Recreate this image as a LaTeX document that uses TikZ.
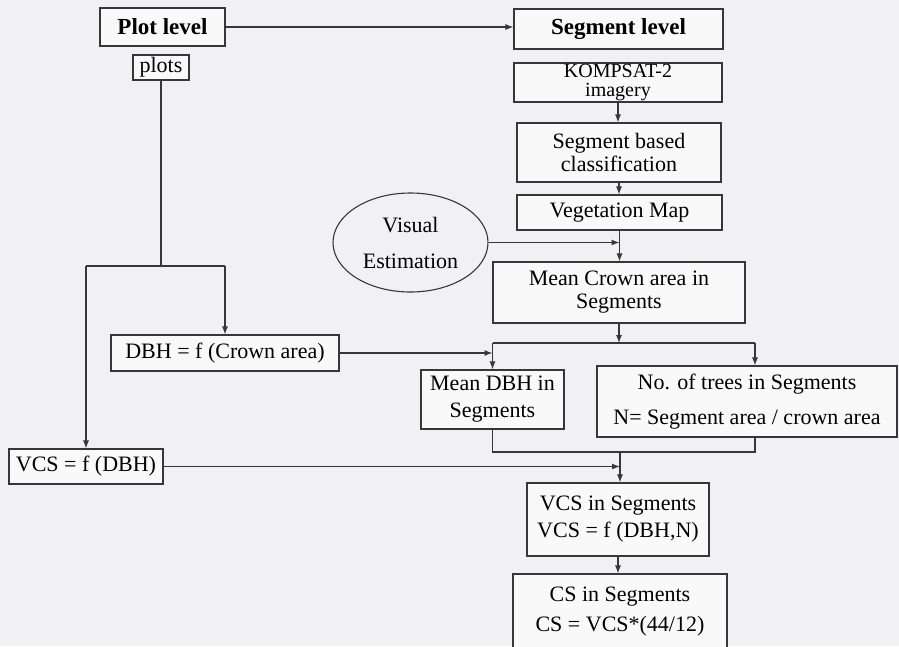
\documentclass[tikz,border=0pt]{standalone}
\usepackage{fontspec}
\setmainfont{Liberation Serif}
\usetikzlibrary{shapes.geometric,arrows.meta}
\definecolor{paper}{RGB}{241,241,243}
\definecolor{ink}{RGB}{55,55,55}

\begin{document}
\begin{tikzpicture}[x=1pt, y=-1pt,
    box/.style={rectangle, draw=ink, line width=1.1pt, fill=white!60!paper, align=center, inner sep=1pt, font=\fontsize{22}{24}\selectfont},
    flow/.style={draw=ink, line width=1.1pt},
    >={Latex[length=8pt,width=6pt]}]
    \fill[paper] (0,0) rectangle (899,646);
    \useasboundingbox (0,0) rectangle (899,646);

    \node[box, font=\bfseries\fontsize{23}{26}\selectfont, minimum width=125pt, minimum height=38pt] (plotlvl) at (162.5,27) {Plot level};
    \node[box, minimum width=56pt, minimum height=25pt] (plots) at (161,67.5) {plots};
    \node[box, font=\bfseries\fontsize{23}{26}\selectfont, minimum width=209pt, minimum height=40pt] (seglvl) at (618.5,29) {Segment level};
    \node[box, font=\fontsize{20}{19}\selectfont, minimum width=208pt, minimum height=39pt] (kompsat) at (618,82.5) {KOMPSAT-2\\imagery};
    \node[box, font=\fontsize{22}{23}\selectfont, minimum width=204pt, minimum height=59pt] (classif) at (619,152.5) {Segment based\\classification};
    \node[box, minimum width=205pt, minimum height=35pt] (vegmap) at (619.5,212.5) {Vegetation Map};
    \node[ellipse, draw=ink, line width=1.1pt, align=center, font=\fontsize{22}{36}\selectfont, minimum width=155pt, minimum height=99pt] (visual) at (410.5,242.5) {Visual\\Estimation};
    \node[box, font=\fontsize{22}{23}\selectfont, minimum width=252pt, minimum height=61pt] (meancrown) at (619,292.5) {Mean Crown area in\\Segments};
    \node[box, font=\fontsize{22}{27}\selectfont, minimum width=143pt, minimum height=59pt] (meandbh) at (492.5,399.5) {Mean DBH in\\Segments};
    \node[box, font=\fontsize{22}{35}\selectfont, minimum width=300pt, minimum height=71pt] (notrees) at (747,401.5) {No. of trees in Segments\\N= Segment area / crown area};
    \node[box, minimum width=228pt, minimum height=36pt] (dbhf) at (225,353) {DBH = f (Crown area)};
    \node[box, minimum width=154pt, minimum height=35pt] (vcsf) at (86,466.5) {VCS = f (DBH)};
    \node[box, font=\fontsize{22}{27}\selectfont, minimum width=182pt, minimum height=73pt] (vcsseg) at (618,519.5) {VCS in Segments\\VCS = f (DBH,N)};
    \node[box, font=\fontsize{22}{30}\selectfont, minimum width=214pt, minimum height=76pt] (cs) at (620,612) {CS in Segments\\CS = VCS*(44/12)};

    \coordinate (jleft) at (0,266);
    \coordinate (jtop) at (620,343);
    \coordinate (jbot) at (620,452);
    \coordinate (treesin) at ([xshift=8pt]notrees.north);
    \coordinate (treesout) at ([xshift=8pt]notrees.south);

    \draw[flow, ->] (plotlvl.east) -- (plotlvl.east -| seglvl.west);
    \draw[flow, ->] (kompsat.south) -- (kompsat.south |- classif.north);
    \draw[flow, ->] (classif.south) -- (classif.south |- vegmap.north);
    \draw[flow, ->] (vegmap.south) -- (vegmap.south |- meancrown.north);
    \draw[flow, ->] (visual.east) -- (visual.east -| vegmap.south);
    \draw[flow, ->] (meancrown.south) -- (meancrown.south |- jtop);
    \draw[flow] (meandbh.north |- jtop) -- (treesin |- jtop);
    \draw[flow, ->] (meandbh.north |- jtop) -- (meandbh.north);
    \draw[flow, ->] (treesin |- jtop) -- (treesin);
    \draw[flow, ->] (dbhf.east) -- (dbhf.east -| meandbh.north);
    \draw[flow] (plots.south) -- (plots.south |- jleft);
    \draw[flow] (vcsf.north |- jleft) -- (dbhf.north |- jleft);
    \draw[flow, ->] (vcsf.north |- jleft) -- (vcsf.north);
    \draw[flow, ->] (dbhf.north |- jleft) -- (dbhf.north);
    \draw[flow] (meandbh.south) -- (meandbh.south |- jbot) -- (treesout |- jbot) -- (treesout);
    \draw[flow, ->] (jbot) -- (jbot |- vcsseg.north);
    \draw[flow, ->] (vcsf.east) -- (vcsf.east -| jbot);
    \draw[flow, ->] (vcsseg.south) -- (vcsseg.south |- cs.north);
\end{tikzpicture}
\end{document}
